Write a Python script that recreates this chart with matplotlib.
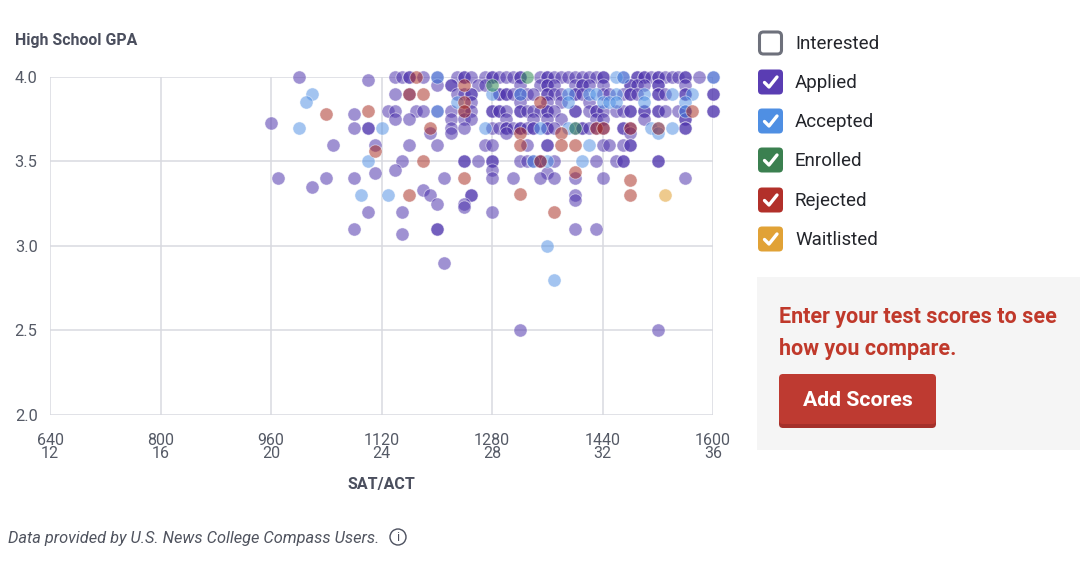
import matplotlib
matplotlib.use("Agg")
import matplotlib.pyplot as plt
from matplotlib.patches import FancyBboxPatch, Rectangle, Circle
import numpy as np

plt.rcParams['font.family'] = ['Roboto', 'DejaVu Sans']

# ---------------- data (SAT score, GPA) grouped by GPA rows ----------------
applied_rows = [
    (4.00, [1000, 1140, 1150, 1160, 1160, 1180, 1200, 1230, 1240, 1240, 1250, 1270, 1280, 1280,
            1290, 1300, 1310, 1320, 1320, 1350, 1360, 1360, 1370, 1380, 1390, 1400, 1410, 1420,
            1430, 1440, 1440, 1470, 1490, 1490, 1500, 1500, 1510, 1520, 1520, 1530, 1540, 1550,
            1560, 1560, 1580, 1600]),
    (3.98, [1100]),
    (3.95, [1200, 1220, 1220, 1260, 1270, 1320, 1350, 1360, 1360, 1370, 1400, 1410, 1410, 1420,
            1440, 1480, 1480, 1490, 1500, 1520, 1520, 1560]),
    (3.90, [1140, 1160, 1230, 1240, 1250, 1250, 1290, 1290, 1300, 1300, 1310, 1320, 1330, 1340,
            1360, 1360, 1370, 1380, 1400, 1400, 1410, 1440, 1450, 1470, 1480, 1480, 1490, 1520,
            1520, 1530, 1560, 1560, 1600, 1600]),
    (3.85, [1250, 1320, 1360, 1380, 1420]),
    (3.80, [1130, 1140, 1170, 1180, 1200, 1220, 1240, 1250, 1280, 1280, 1290, 1290, 1300, 1320,
            1320, 1330, 1340, 1350, 1360, 1360, 1370, 1400, 1400, 1420, 1430, 1430, 1440, 1460,
            1470, 1480, 1480, 1500, 1500, 1520, 1520, 1530, 1550, 1560, 1560, 1600, 1600]),
    (3.78, [1080]),
    (3.75, [1140, 1160, 1220, 1240, 1250, 1300, 1340, 1360, 1380, 1430, 1440, 1500, 1560, 1560]),
    (3.73, [960]),
    (3.70, [1080, 1100, 1100, 1220, 1240, 1280, 1290, 1300, 1300, 1310, 1320, 1320, 1330, 1340,
            1340, 1360, 1360, 1370, 1400, 1410, 1410, 1420, 1430, 1440, 1470, 1470, 1480, 1560,
            1560]),
    (3.67, [1190, 1220, 1300, 1480]),
    (3.60, [1050, 1110, 1160, 1200, 1270, 1280, 1330, 1360, 1360, 1440, 1450, 1470, 1480, 1480]),
    (3.50, [1150, 1240, 1240, 1260, 1280, 1280, 1320, 1330, 1340, 1350, 1350, 1370, 1430, 1460,
            1470, 1470, 1520, 1520]),
    (3.45, [1140, 1280]),
    (3.43, [1110, 1360]),
    (3.40, [970, 1040, 1080, 1210, 1280, 1310, 1350, 1370, 1400, 1440, 1560]),
    (3.35, [1020]),
    (3.33, [1180]),
    (3.30, [1190, 1250, 1250, 1400]),
    (3.27, [1400]),
    (3.25, [1200, 1240]),
    (3.23, [1240]),
    (3.20, [1100, 1150, 1280]),
    (3.10, [1080, 1200, 1200, 1400, 1430]),
    (3.07, [1150]),
    (2.90, [1210]),
    (2.50, [1320, 1520]),
]

accepted_rows = [
    (4.00, [1200, 1460, 1470, 1600]),
    (3.90, [1020, 1280, 1320, 1390, 1420, 1430, 1460, 1500, 1540, 1570]),
    (3.85, [1010, 1230, 1390, 1440, 1450, 1460, 1500, 1560]),
    (3.80, [1200, 1560]),
    (3.70, [1000, 1120, 1270, 1350, 1390, 1510, 1520, 1540]),
    (3.67, [1520]),
    (3.60, [1420]),
    (3.50, [1100, 1340, 1360, 1410]),
    (3.30, [1090, 1130]),
    (3.00, [1360]),
    (2.80, [1370]),
]

enrolled_rows = [
    (4.00, [1330]),
    (3.95, [1280]),
    (3.70, [1400]),
]

rejected_rows = [
    (4.00, [1170]),
    (3.95, [1240]),
    (3.90, [1160, 1180]),
    (3.85, [1240, 1350]),
    (3.80, [1100, 1240, 1570]),
    (3.78, [1040]),
    (3.70, [1190, 1430, 1440, 1480, 1520]),
    (3.67, [1320, 1380]),
    (3.60, [1320, 1380, 1400]),
    (3.56, [1110]),
    (3.50, [1180, 1350]),
    (3.44, [1400]),
    (3.40, [1240]),
    (3.39, [1480]),
    (3.31, [1320]),
    (3.30, [1160, 1480]),
    (3.20, [1370]),
]

waitlisted_rows = [
    (3.30, [1530]),
]

x_ticks = [640, 800, 960, 1120, 1280, 1440, 1600]
act_ticks = [12, 16, 20, 24, 28, 32, 36]
y_ticks = [2.0, 2.5, 3.0, 3.5, 4.0]

legend_labels = ["Interested", "Applied", "Accepted", "Enrolled", "Rejected", "Waitlisted"]
legend_colors = [None, "#5a3db3", "#4f8fe3", "#3b8050", "#b2302a", "#e1a236"]


def flatten(rows):
    xs, ys = [], []
    for g, sats in rows:
        for s in sats:
            xs.append(s)
            ys.append(g)
    return np.array(xs), np.array(ys)


W, H = 1080, 564
fig = plt.figure(figsize=(W / 100, H / 100), dpi=100)

L, R, T, B = 50, 713, 77, 415
ax = fig.add_axes([L / W, 1 - B / H, (R - L) / W, (B - T) / H])
ax.set_xlim(640, 1600)
ax.set_ylim(2.0, 4.0)
for s in ax.spines.values():
    s.set_visible(False)
grid_c = "#d9dae0"
for xv in x_ticks:
    ax.axvline(xv, color=grid_c, lw=1.1, zorder=0)
for yv in y_ticks:
    ax.axhline(yv, color=grid_c, lw=1.1, zorder=0)

ax.set_xticks(x_ticks, [f"{s}\n{a}" for s, a in zip(x_ticks, act_ticks)],
              linespacing=0.8)
ax.set_yticks(y_ticks, [f"{v:.1f}" for v in y_ticks])
ax.tick_params(axis='both', length=0, colors="#555a66")
ax.tick_params(axis='x', pad=13, labelsize=11.5)
ax.tick_params(axis='y', pad=9, labelsize=11.8)

ms = 90
series = [
    (applied_rows, "#4f35ad", 0.54),
    (accepted_rows, "#4f8fe3", 0.52),
    (enrolled_rows, "#2f8a55", 0.55),
    (rejected_rows, "#a82a20", 0.52),
    (waitlisted_rows, "#e0a030", 0.55),
]
for rows, col, a in series:
    xs, ys = flatten(rows)
    ax.scatter(xs, ys, s=ms, color=col, alpha=a, edgecolors='white', linewidths=0.6,
               clip_on=False, zorder=3)

# ---------------- overlay in pixel coordinates ----------------
ov = fig.add_axes([0, 0, 1, 1], facecolor='none')
ov.set_xlim(0, W)
ov.set_ylim(H, 0)
ov.axis('off')

ov.text(15, 40, "High School GPA", fontsize=11.4, fontweight='bold', color="#4b4f5e",
        ha='left', va='center')
ov.text(381, 484, "SAT/ACT", fontsize=11.5, fontweight='bold', color="#4b4f5e",
        ha='center', va='center')
ov.text(8, 539, "Data provided by U.S. News College Compass Users.", fontsize=11.8,
        style='italic', color="#50545f", ha='left', va='center')
ov.add_patch(Circle((398, 537), 8, fill=False, ec="#4b4f5e", lw=1.0))
ov.text(398, 537.5, "i", fontsize=9, color="#4b4f5e", ha='center', va='center')

# legend
row_y = [43, 82, 121, 160, 200, 239]
for lab, col, yc in zip(legend_labels, legend_colors, row_y):
    bx, bs = 758, 25
    if col is None:
        ov.add_patch(FancyBboxPatch((bx + 1.5, yc - bs / 2 + 1.5), bs - 3, bs - 3,
                                    boxstyle="round,pad=0,rounding_size=4",
                                    fc='white', ec="#6e717c", lw=2.2))
    else:
        ov.add_patch(FancyBboxPatch((bx, yc - bs / 2), bs, bs,
                                    boxstyle="round,pad=0,rounding_size=4",
                                    fc=col, ec='none'))
        ov.plot([bx + 6.5, bx + 11, bx + 19], [yc + 0.5, yc + 5, yc - 5],
                color='white', lw=2.4, solid_capstyle='round', solid_joinstyle='round')
    ov.text(795, yc + 1, lab, fontsize=13.5, color="#23252b", ha='left', va='center')

# call-to-action panel
ov.add_patch(Rectangle((757, 277), W - 757, 173, fc="#f5f5f5", ec='none'))
ov.text(779, 323, "Enter your test scores to see", fontsize=15.5, fontweight='bold',
        color="#c0392b", ha='left', va='baseline')
ov.text(779, 355, "how you compare.", fontsize=15.5, fontweight='bold',
        color="#c0392b", ha='left', va='baseline')
ov.add_patch(FancyBboxPatch((779, 378), 157, 50, boxstyle="round,pad=0,rounding_size=4",
                            fc="#a5302a", ec='none'))
ov.add_patch(FancyBboxPatch((779, 374), 157, 50, boxstyle="round,pad=0,rounding_size=4",
                            fc="#be3a31", ec='none'))
ov.text(857.5, 400, "Add Scores", fontsize=15.3, fontweight='bold', color='white',
        ha='center', va='center')

fig.savefig("out.png", dpi=100)
